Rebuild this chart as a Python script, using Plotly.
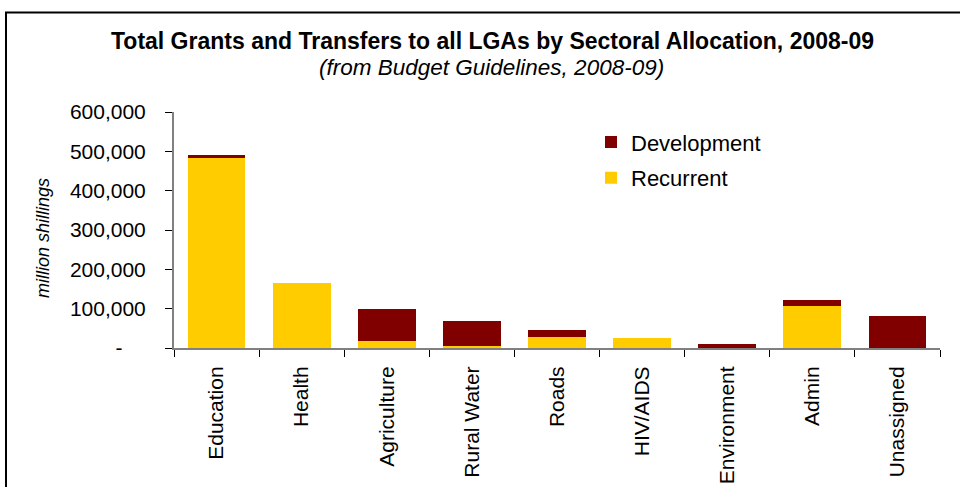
import plotly.graph_objects as go

categories = ["Education", "Health", "Agriculture", "Rural Water", "Roads",
              "HIV/AIDS", "Environment", "Admin", "Unassigned"]
recurrent = [485000, 166000, 18500, 6000, 28500, 26000, 0, 107000, 0]
development = [5000, 0, 81500, 63000, 18000, 0, 11000, 15500, 82000]
y_tickvals = [0, 100000, 200000, 300000, 400000, 500000, 600000]
y_ticktext = ["-\u00a0\u00a0\u00a0\u00a0", "100,000", "200,000", "300,000",
              "400,000", "500,000", "600,000"]

W, H = 960, 487
L, R = 174, 940
T, B = 111.7, 348.3

def px_x(p):
    return (p - L) / (R - L)

def px_y(p):
    return (B - p) / (B - T)

FONT = "Liberation Sans, Arial, sans-serif"

fig = go.Figure()
fig.add_trace(go.Bar(x=categories, y=recurrent, name="Recurrent",
                     marker=dict(color="#FFCC00", line=dict(width=0)),
                     legendgroup="r", legendrank=2))
fig.add_trace(go.Bar(x=categories, y=development, name="Development",
                     marker=dict(color="#800000", line=dict(width=0)),
                     legendgroup="d", legendrank=1))

fig.update_layout(
    width=W, height=H,
    barmode="stack", bargap=0.32,
    paper_bgcolor="white", plot_bgcolor="white",
    margin=dict(l=L, r=W - R, t=T, b=H - B, pad=0, autoexpand=False),
    font=dict(family=FONT, color="black", size=20),
    showlegend=True,
    legend=dict(x=px_x(591), y=px_y(121), xanchor="left", yanchor="top",
                font=dict(size=22, family=FONT), traceorder="grouped",
                tracegroupgap=4, bgcolor="rgba(0,0,0,0)", itemwidth=30),
    xaxis=dict(showline=True, linecolor="#808080", linewidth=2,
               ticks="outside", ticklen=7, tickcolor="black", tickwidth=1,
               tickson="boundaries", tickangle=-90, automargin=False,
               tickfont=dict(size=21, family=FONT), ticklabelstandoff=8,
               showgrid=False, zeroline=False),
    yaxis=dict(range=[0, 600000], showline=True, linecolor="#808080", linewidth=2,
               ticks="outside", ticklen=7, tickcolor="black", tickwidth=1,
               tickvals=y_tickvals, ticktext=y_ticktext, automargin=False,
               tickfont=dict(size=21, family=FONT), ticklabelstandoff=15,
               showgrid=False, zeroline=False),
    annotations=[
        dict(text="<b>Total Grants and Transfers to all LGAs by Sectoral Allocation, 2008-09</b>",
             x=px_x(492), y=px_y(41), xref="paper", yref="paper",
             xanchor="center", yanchor="middle", showarrow=False,
             font=dict(size=23, family=FONT)),
        dict(text="<i>(from Budget Guidelines, 2008-09)</i>",
             x=px_x(491), y=px_y(67), xref="paper", yref="paper",
             xanchor="center", yanchor="middle", showarrow=False,
             font=dict(size=22.5, family=FONT)),
        dict(text="<i>million shillings</i>",
             x=px_x(43), y=px_y(238), xref="paper", yref="paper",
             xanchor="center", yanchor="middle", showarrow=False, textangle=-90,
             font=dict(size=18, family=FONT)),
    ],
    shapes=[
        dict(type="rect", xref="paper", yref="paper",
             x0=px_x(6), x1=px_x(975), y0=px_y(12), y1=px_y(520),
             line=dict(color="black", width=2), fillcolor="rgba(0,0,0,0)",
             layer="below"),
    ],
)

fig.write_html("out.html",
               config={"displayModeBar": False},
               post_script="document.body.style.margin='0';document.body.style.overflow='hidden';")
